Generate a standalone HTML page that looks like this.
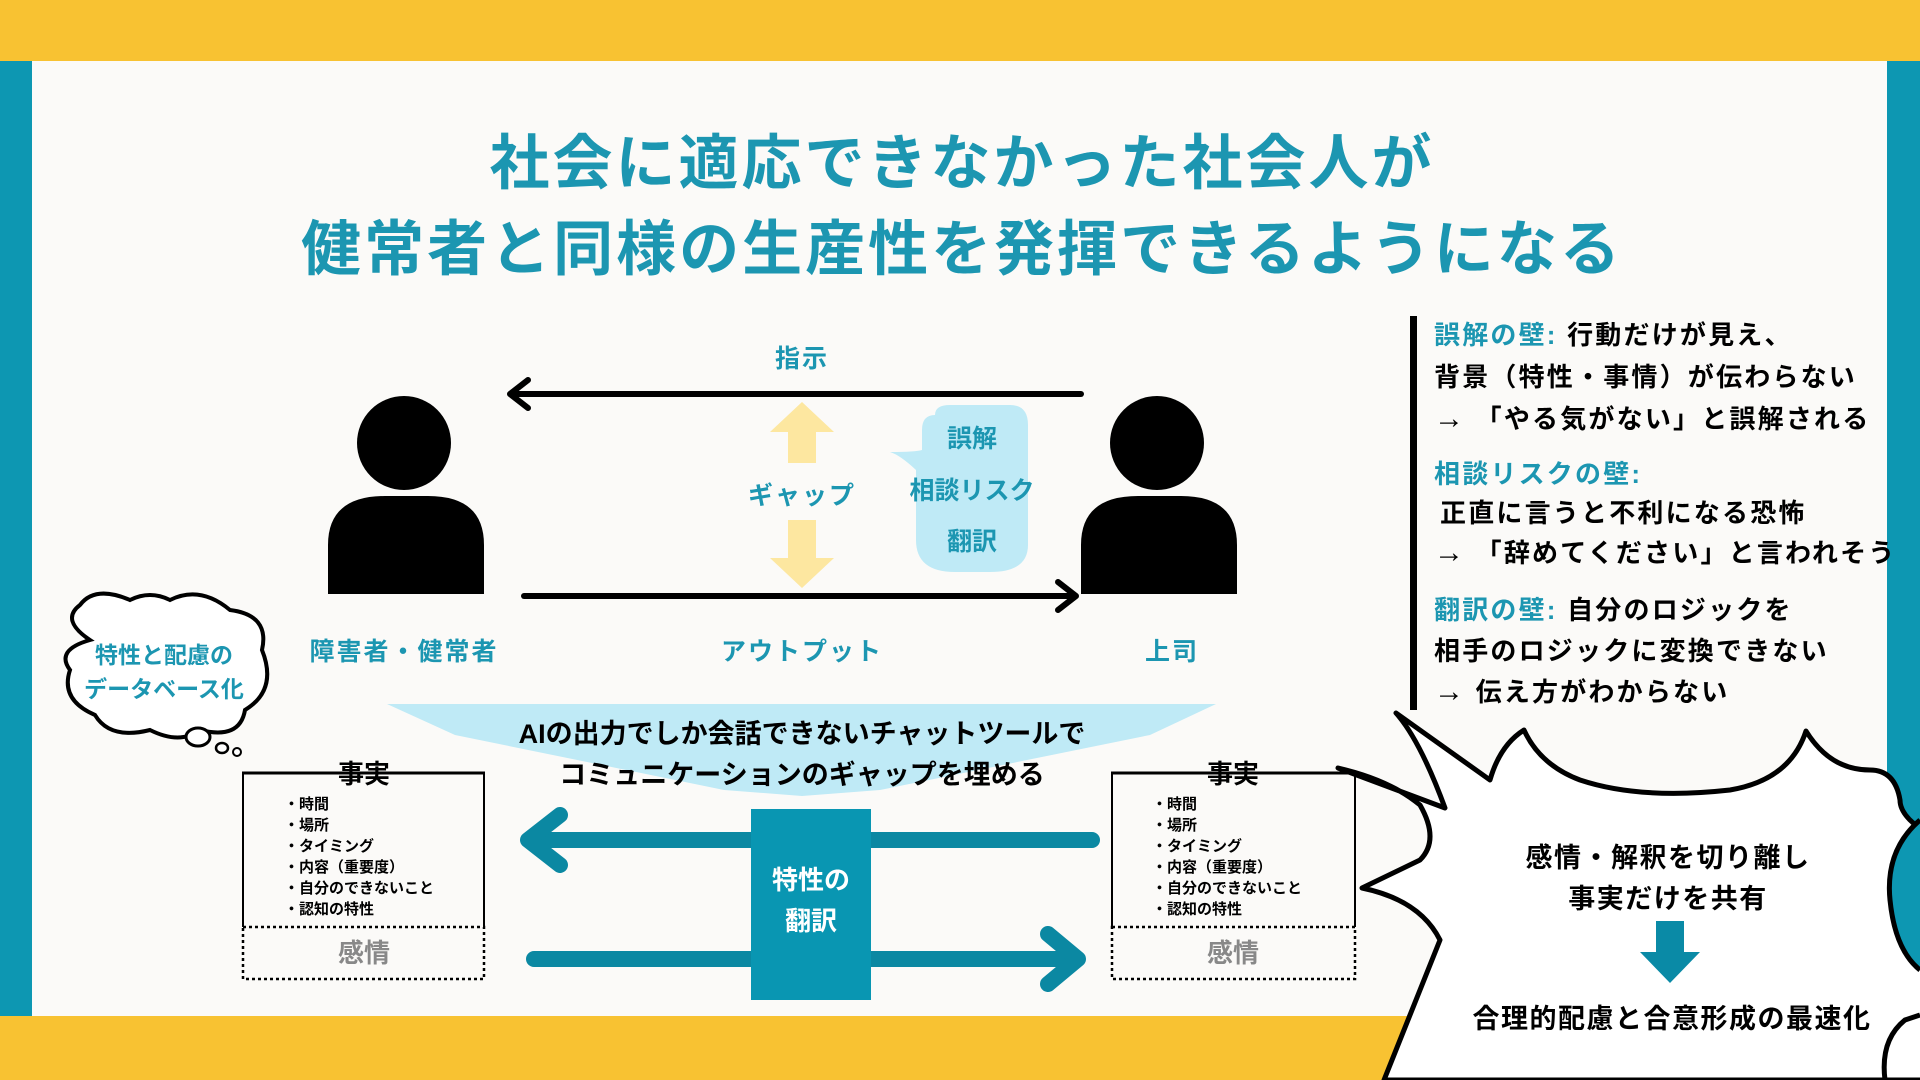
<!DOCTYPE html>
<html><head><meta charset="utf-8"><style>
html,body{margin:0;padding:0;background:#fbfaf8;}
svg{display:block;}
text{font-family:"Liberation Sans","Noto Sans CJK JP",sans-serif;font-weight:700;}
</style></head><body>
<svg width="1920" height="1080" viewBox="0 0 1920 1080" xmlns="http://www.w3.org/2000/svg">
<rect width="1920" height="1080" fill="#fbfaf8"/>
<rect x="0" y="0" width="1920" height="61" fill="#f8c232"/>
<rect x="0" y="1016" width="1920" height="64" fill="#f8c232"/>
<rect x="0" y="61" width="32" height="955" fill="#0d97b2"/>
<rect x="1887" y="61" width="33" height="955" fill="#0d97b2"/>

<g fill="#1c96b1" font-size="60" text-anchor="middle" letter-spacing="3">
<text x="962" y="184">社会に適応できなかった社会人が</text>
<text x="962" y="270">健常者と同様の生産性を発揮できるようになる</text>
</g>

<!-- persons -->
<g fill="#000">
<circle cx="404" cy="443" r="47"/>
<path d="M328,594 L328,545 Q328,496 385,496 L428,496 Q484,496 484,545 L484,594 Z"/>
<circle cx="1157" cy="443" r="47"/>
<path d="M1081,594 L1081,545 Q1081,496 1138,496 L1181,496 Q1237,496 1237,545 L1237,594 Z"/>
</g>

<!-- black arrows -->
<g stroke="#000" stroke-width="6" fill="none" stroke-linecap="round" stroke-linejoin="round">
<line x1="1081" y1="394" x2="512" y2="394"/>
<polyline points="528,380 510,394 528,408"/>
<line x1="524" y1="596" x2="1074" y2="596"/>
<polyline points="1058,582 1076,596 1058,610"/>
</g>
<g fill="#1c96b1" font-size="25" text-anchor="middle" letter-spacing="2">
<text x="802" y="367">指示</text>
<text x="802" y="504">ギャップ</text>
<text x="404" y="660">障害者・健常者</text>
<text x="802" y="660">アウトプット</text>
<text x="1172" y="660">上司</text>
</g>
<!-- yellow arrows -->
<g fill="#fde7a0">
<polygon points="802,402 770,432 788,432 788,463 816,463 816,432 834,432"/>
<polygon points="802,588 770,558 788,558 788,520 816,520 816,558 834,558"/>
</g>
<!-- speech bubble -->
<path d="M935,415 Q935,405 950,405 L1010,405 Q1028,405 1028,425 L1028,545 Q1028,572 990,572 L955,572 Q916,572 916,540 L916,470 Q900,455 890,452 Q915,452 922,450 L922,430 Q922,415 935,415 Z" fill="#bfeaf6"/>
<g fill="#1c96b1" font-size="25" text-anchor="middle">
<text x="972" y="447">誤解</text>
<text x="972" y="499">相談リスク</text>
<text x="972" y="550">翻訳</text>
</g>

<!-- cloud -->
<path d="M90,640 Q60,620 80,605 Q95,585 130,600 Q150,590 170,600 Q200,585 230,610 Q270,615 262,650 Q278,690 245,710 Q240,740 200,730 Q180,745 150,730 Q110,740 95,715 Q60,700 70,670 Q55,650 90,640 Z" fill="#fff" stroke="#000" stroke-width="4"/>
<ellipse cx="198" cy="737" rx="12" ry="9" fill="#fff" stroke="#000" stroke-width="3"/>
<ellipse cx="222" cy="748" rx="6" ry="5" fill="#fff" stroke="#000" stroke-width="2.5"/>
<ellipse cx="237" cy="752" rx="4" ry="4" fill="#fff" stroke="#000" stroke-width="2"/>
<g fill="#1c96b1" font-size="23" text-anchor="middle">
<text x="164" y="663">特性と配慮の</text>
<text x="164" y="697">データベース化</text>
</g>

<!-- funnel -->
<polygon points="387,704 1216,704 1150,735 880,790 802,796 724,790 455,735" fill="#bfeaf6"/>
<g fill="#000" font-size="27" text-anchor="middle">
<text x="802" y="743">AIの出力でしか会話できないチャットツールで</text>
<text x="802" y="784">コミュニケーションのギャップを埋める</text>
</g>

<!-- boxes -->
<g fill="none" stroke="#000">
<line x1="242" y1="773" x2="485" y2="773" stroke-width="3"/>
<path d="M243,773 V927 M484,773 V927" stroke-width="2"/>
<rect x="243" y="927" width="241" height="52" stroke-width="2.5" stroke-dasharray="3,3"/>
<line x1="1111" y1="773" x2="1356" y2="773" stroke-width="3"/>
<path d="M1112,773 V927 M1355,773 V927" stroke-width="2"/>
<rect x="1112" y="927" width="243" height="52" stroke-width="2.5" stroke-dasharray="3,3"/>
</g>
<g font-size="26" text-anchor="middle" fill="#000">
<text x="364" y="783">事実</text>
<text x="1233" y="783">事実</text>
</g>
<g font-size="26" text-anchor="middle" fill="#888">
<text x="364" y="962">感情</text>
<text x="1233" y="962">感情</text>
</g>
<g font-size="15" fill="#000">
<text x="284" y="809">・時間</text><text x="284" y="830">・場所</text><text x="284" y="851">・タイミング</text><text x="284" y="872">・内容（重要度）</text><text x="284" y="893">・自分のできないこと</text><text x="284" y="914">・認知の特性</text>
<text x="1152" y="809">・時間</text><text x="1152" y="830">・場所</text><text x="1152" y="851">・タイミング</text><text x="1152" y="872">・内容（重要度）</text><text x="1152" y="893">・自分のできないこと</text><text x="1152" y="914">・認知の特性</text>
</g>

<!-- teal arrows -->
<g stroke="#0b88a2" stroke-width="16" fill="none" stroke-linecap="round" stroke-linejoin="round">
<line x1="1092" y1="840" x2="530" y2="840"/>
<polyline points="560,815 528,840 560,865"/>
<line x1="534" y1="959" x2="1074" y2="959"/>
<polyline points="1048,934 1078,959 1048,984"/>
</g>
<rect x="751" y="809" width="120" height="191" fill="#0996b2"/>
<g fill="#fff" font-size="26" text-anchor="middle">
<text x="811" y="889">特性の</text>
<text x="811" y="930">翻訳</text>
</g>

<!-- right text -->
<rect x="1410" y="316" width="7" height="394" fill="#000"/>
<g font-size="26" fill="#000" letter-spacing="2.2">
<text x="1434" y="344"><tspan fill="#1c96b1">誤解の壁: </tspan>行動だけが見え、</text>
<text x="1434" y="386">背景（特性・事情）が伝わらない</text>
<text x="1434" y="428"><tspan font-size="30">→</tspan> 「やる気がない」と誤解される</text>
<text x="1434" y="483" fill="#1c96b1">相談リスクの壁:</text>
<text x="1440" y="522">正直に言うと不利になる恐怖</text>
<text x="1434" y="562"><tspan font-size="30">→</tspan> 「辞めてください」と言われそう</text>
<text x="1434" y="619"><tspan fill="#1c96b1">翻訳の壁: </tspan>自分のロジックを</text>
<text x="1434" y="660">相手のロジックに変換できない</text>
<text x="1434" y="701"><tspan font-size="30">→</tspan> 伝え方がわからない</text>
</g>

<!-- starburst -->
<path d="M1396,713 Q1420,740 1445,808 L1338,768 Q1390,780 1420,805 Q1440,840 1420,860 L1362,888 Q1420,900 1440,940 L1384,1080 L1940,1080 L1940,840 Q1900,820 1900,800 Q1895,770 1870,770 Q1830,770 1806,731 Q1790,780 1730,790 Q1640,800 1580,780 Q1540,765 1524,730 Q1500,745 1490,780 Z" fill="#fff" stroke="#000" stroke-width="5" stroke-linejoin="round"/>
<path d="M1885,1080 Q1880,1040 1905,1020 L1920,1015" fill="none" stroke="#000" stroke-width="5"/>
<path d="M1920,820 Q1885,850 1890,900 Q1895,950 1920,970" fill="#0d97b2" stroke="#000" stroke-width="5"/>
<g font-size="27" fill="#000" text-anchor="middle" letter-spacing="1.5">
<text x="1668" y="867">感情・解釈を切り離し</text>
<text x="1668" y="908">事実だけを共有</text>
<text x="1672" y="1028">合理的配慮と合意形成の最速化</text>
</g>
<polygon points="1656,921 1684,921 1684,952 1700,952 1670,983 1640,952 1656,952" fill="#0a8aa6"/>
</svg>
</body></html>
